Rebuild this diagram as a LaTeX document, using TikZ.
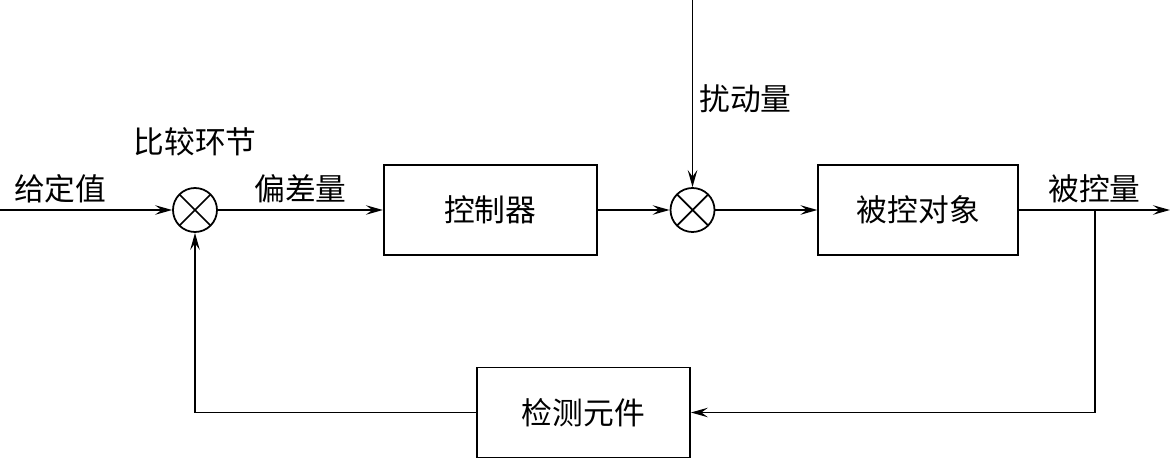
\documentclass[tikz,border=0pt]{standalone}
\usepackage{fontspec}
\newfontfamily\cjk{Noto Sans CJK SC}
\usetikzlibrary{positioning,arrows.meta}

\begin{document}
\begin{tikzpicture}[
	font=\cjk\fontsize{17.5}{21}\selectfont,
	block/.style={rectangle, draw=black, line width=1pt,
		minimum width=4.26cm, minimum height=1.8cm},
	sumj/.style={circle, draw=black, line width=1pt,
		minimum size=0.88cm, inner sep=0pt,
		path picture={\draw[line width=1pt]
			(path picture bounding box.north west) -- (path picture bounding box.south east)
			(path picture bounding box.north east) -- (path picture bounding box.south west);}},
	arrow/.style={-{Stealth[length=3.4mm, width=1.9mm, inset=1.3mm]}, line width=1pt}
	]
	\useasboundingbox (0,0) rectangle (23.4,-9.18);
	\node[sumj] (sum1) at (3.9,-4.2) {};
	\node[block, right=3.3cm of sum1] (ctrl) {控制器};
	\node[sumj, right=1.44cm of ctrl] (sum2) {};
	\node[block, minimum width=4cm, right=2.04cm of sum2] (plant) {被控对象};
	\node[block] (sense) at (11.67,-8.25) {检测元件};
	\node[above=5mm of sum1] (cmp) {比较环节};
	\coordinate (in) at (0,-4.2);
	\coordinate (dist) at (sum2 |- 0,0);
	\coordinate (br) at (21.9,-4.2);
	\coordinate (out) at (23.4,-4.2);
	\draw[arrow] (in) -- node[above, pos=0.35] (lblin) {给定值} (sum1);
	\draw[arrow] (sum1) -- node[above] (lblerr) {偏差量} (ctrl);
	\draw[arrow] (ctrl) -- (sum2);
	\draw[arrow] (dist) -- node[right, pos=0.53] (lbldist) {扰动量} (sum2);
	\draw[arrow] (sum2) -- (plant);
	\draw[arrow] (plant) -- node[above] (lblout) {被控量} (out);
	\draw[arrow] (br) |- (sense);
	\draw[arrow] (sense) -| (sum1);
\end{tikzpicture}
\end{document}
